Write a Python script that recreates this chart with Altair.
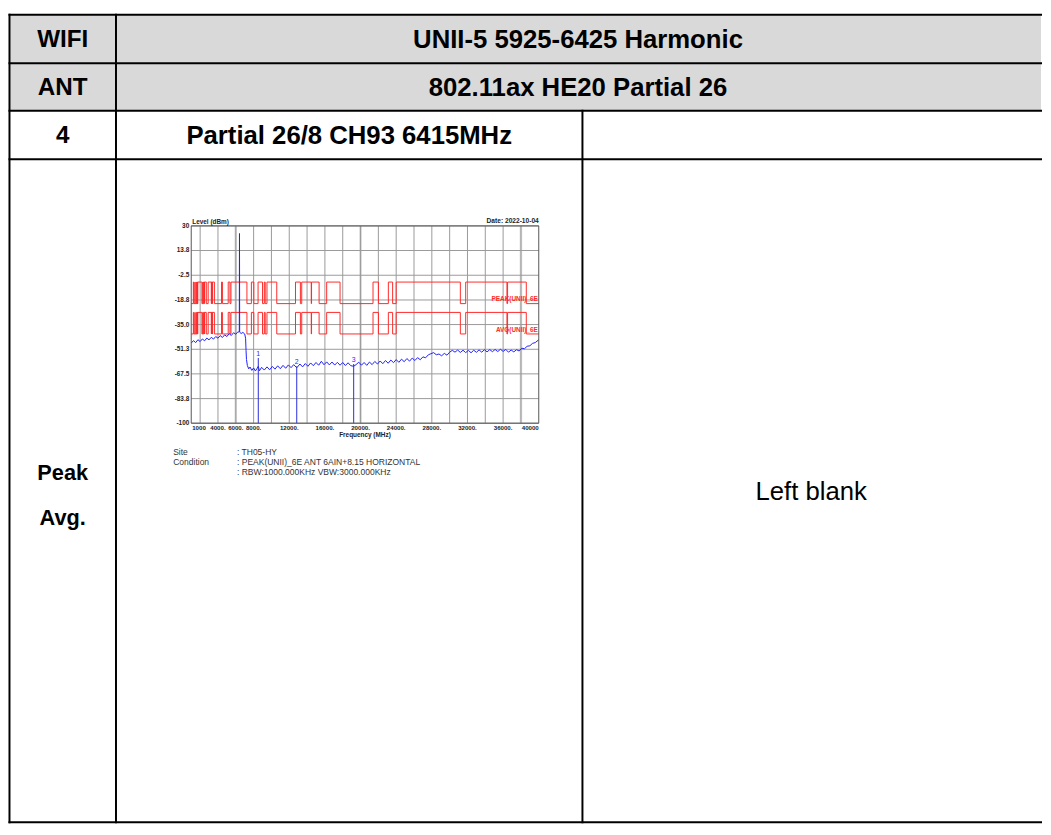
import altair as alt
import pandas as pd

# ---------------- table content ----------------
ROW_LABELS = ["WIFI", "ANT", "4"]
ROW_VALUES = ["UNII-5 5925-6425 Harmonic", "802.11ax HE20 Partial 26", "Partial 26/8 CH93 6415MHz"]
MODE_LABELS = ["Peak", "Avg."]
BLANK_TEXT = "Left blank"
FOOTER_KEYS = ["Site", "Condition", ""]
FOOTER_VALUES = [": TH05-HY", ": PEAK(UNII)_6E ANT 6AIN+8.15 HORIZONTAL", ": RBW:1000.000KHz VBW:3000.000KHz"]

# ---------------- spectrum plot ----------------
Y_TICKS = [30, 13.8, -2.5, -18.8, -35.0, -51.3, -67.5, -83.8, -100]
Y_TICK_LABELS = ["30", "13.8", "-2.5", "-18.8", "-35.0", "-51.3", "-67.5", "-83.8", "-100"]
X_TICKS = [1000, 4000, 6000, 8000, 12000, 16000, 20000, 24000, 28000, 32000, 36000, 40000]
X_TICK_LABELS = ["1000", "4000.", "6000.", "8000.", "12000.", "16000.", "20000.",
                 "24000.", "28000.", "32000.", "36000.", "40000"]
GRID_FREQ = [2000, 4000, 6000, 8000, 10000, 12000, 14000, 16000, 18000, 20000,
             22000, 24000, 26000, 28000, 30000, 32000, 34000, 36000, 38000]
LIGHT_GRID_FREQ = [6000, 20000, 38000]

RESTRICTED_START = [960, 1300, 1435, 1645.5, 1660, 1718.8, 2200, 2310, 2483.5, 2690,
                    3260, 3332, 3345.8, 3600, 4500, 5350, 7250, 8025, 9000, 9300,
                    10600, 13250, 14470, 15350, 17700, 22010, 23600, 31200, 36430, 38600]
RESTRICTED_END = [1240, 1427, 1626.5, 1646.5, 1710, 1722.2, 2300, 2390, 2500, 2900,
                  3267, 3339, 3358, 4400, 5150, 5460, 7750, 8500, 9200, 9500,
                  12700, 13400, 14500, 16200, 21400, 23120, 24000, 31800, 36500, 40000]
PEAK_LIMIT = [-7.0, -21.2]   # non-restricted, restricted
AVG_LIMIT = [-27.0, -41.2]

TRACE_FREQ = [1000, 1250, 1500, 1750, 2000, 2250, 2500, 2750, 3000, 3250,
              3500, 3750, 4000, 4250, 4500, 4750, 5000, 5250, 5500, 5750,
              6000, 6200, 6395, 6415, 6435, 6600, 6800, 7000, 7100, 7150,
              7200, 7300, 7450, 7600, 7800, 8000, 8200, 8400, 8525, 8650,
              8900, 9200, 9500, 9800, 10100, 10400, 10700, 11000, 11300, 11600,
              11900, 12200, 12500, 12840, 13200, 13500, 13800, 14100, 14400, 14700,
              15000, 15300, 15600, 15900, 16200, 16500, 16800, 17100, 17400, 17700,
              18000, 18300, 18600, 18900, 19230, 19500, 19800, 20100, 20400, 20700,
              21000, 21300, 21600, 21900, 22200, 22500, 22800, 23100, 23400, 23700,
              24000, 24300, 24600, 24900, 25200, 25500, 25800, 26100, 26400, 26700,
              27000, 27300, 27600, 27900, 28200, 28500, 28800, 29100, 29400, 29700,
              30000, 30300, 30600, 30900, 31200, 31500, 31800, 32100, 32400, 32700,
              33000, 33300, 33600, 33900, 34200, 34500, 34800, 35100, 35400, 35700,
              36000, 36300, 36600, 36900, 37200, 37500, 37800, 38100, 38400, 38700,
              39000, 39300, 39600, 40000]
TRACE_LEVEL = [-47.2, -45.6, -46.9, -45.0, -46.2, -44.5, -45.7, -43.9, -45.1, -43.4,
               -44.6, -42.9, -44.0, -42.3, -43.5, -41.8, -42.9, -41.0, -42.2, -40.4,
               -41.4, -40.0, -39.8, 25.0, -40.0, -40.9, -40.2, -41.2, -44.0, -52.0,
               -58.0, -62.0, -64.2, -63.0, -65.2, -63.6, -65.6, -63.8, -62.5, -65.5,
               -63.2, -65.0, -62.9, -64.8, -62.6, -64.4, -62.2, -64.1, -61.9, -63.8,
               -61.6, -63.4, -61.4, -63.5, -61.0, -62.9, -60.7, -62.5, -60.3, -62.1,
               -60.0, -61.8, -59.2, -61.5, -59.6, -61.6, -59.7, -61.7, -59.9, -61.8,
               -60.0, -62.0, -60.2, -62.1, -62.5, -61.4, -59.8, -61.8, -60.0, -61.9,
               -59.7, -61.4, -59.3, -61.0, -59.0, -60.8, -58.7, -60.5, -58.4, -60.1,
               -58.1, -59.9, -57.8, -59.5, -57.4, -59.1, -57.1, -58.7, -56.8, -58.2,
               -56.3, -56.9, -55.0, -54.2, -53.5, -54.9, -54.4, -55.6, -54.0, -55.2,
               -53.2, -52.0, -53.2, -51.8, -53.4, -51.9, -53.5, -52.0, -53.6, -51.9,
               -53.3, -51.7, -53.2, -51.6, -53.0, -51.5, -52.9, -51.4, -52.8, -51.3,
               -52.7, -51.4, -53.2, -51.8, -53.0, -51.6, -52.4, -50.6, -50.9, -49.3,
               -49.0, -47.4, -46.9, -45.0]

MARKER_FREQ = [8525, 12840, 19230]
MARKER_LEVEL = [-57.0, -62.5, -61.0]
MARKER_LABEL = ["1", "2", "3"]

# ---------------- layout (reference pixel frame) ----------------
W, H = 1042, 819
RX0, RX1, RY0, RY1 = 6, 1050, 6, 833
CX0, CX1, CY0, CY1 = 0.5, 1042, 1, 818
def px(x):
    return CX0 + (x - RX0) * (CX1 - CX0) / (RX1 - RX0)
def py(y):
    return CY0 + (y - RY0) * (CY1 - CY0) / (RY1 - RY0)

TX = alt.Scale(domain=[RX0, RX1], range=[CX0, CX1], nice=False, zero=False)
TY = alt.Scale(domain=[RY0, RY1], range=[CY0, CY1], nice=False, zero=False)

ROW_EDGES = [6, 55.7, 104.3, 154, 833]
COL_LEFT, COL_1, COL_2, COL_RIGHT = 6, 114, 587, 1052
TEXT_RIGHT = 1051

rules = pd.DataFrame(
    [dict(x=COL_LEFT, x2=COL_RIGHT, y=r, y2=r) for r in ROW_EDGES]
    + [dict(x=COL_LEFT, x2=COL_LEFT, y=6, y2=833),
       dict(x=COL_1, x2=COL_1, y=6, y2=833),
       dict(x=COL_2, x2=COL_2, y=104.3, y2=833)]
)
fill = pd.DataFrame([dict(x=COL_LEFT, x2=COL_RIGHT, y=6, y2=104.3)])

row_mid = [(ROW_EDGES[i] + ROW_EDGES[i + 1]) / 2 + 1 for i in range(3)]
left_text = pd.DataFrame(
    [dict(x=(COL_LEFT + COL_1) / 2, y=row_mid[i], t=ROW_LABELS[i]) for i in range(3)])
value_text = pd.DataFrame(
    [dict(x=(COL_1 + TEXT_RIGHT) / 2, y=row_mid[0], t=ROW_VALUES[0]),
     dict(x=(COL_1 + TEXT_RIGHT) / 2, y=row_mid[1], t=ROW_VALUES[1]),
     dict(x=(COL_1 + COL_2) / 2, y=row_mid[2], t=ROW_VALUES[2])])
mode_text = pd.DataFrame(
    [dict(x=(COL_LEFT + COL_1) / 2, y=475, t=MODE_LABELS[0]),
     dict(x=(COL_LEFT + COL_1) / 2, y=521, t=MODE_LABELS[1])])
plain_text = pd.DataFrame([dict(x=(COL_2 + TEXT_RIGHT) / 2, y=495, t=BLANK_TEXT)])
footer = pd.DataFrame(
    [dict(x=172, y=454 + 10 * i, t=FOOTER_KEYS[i]) for i in range(3)]
    + [dict(x=236.7, y=454 + 10 * i, t=FOOTER_VALUES[i]) for i in range(3)]
)

TXE = alt.X("x:Q", scale=TX, axis=None)
TYE = alt.Y("y:Q", scale=TY, axis=None)
TF = dict(font="Liberation Sans", color="black", align="center", baseline="middle")

table = alt.layer(
    alt.Chart(fill).mark_rect(color="#d9d9d9").encode(x=TXE, x2="x2:Q", y=TYE, y2="y2:Q"),
    alt.Chart(rules).mark_rule(color="black", strokeWidth=2, strokeCap="square").encode(
        x=TXE, x2="x2:Q", y=TYE, y2="y2:Q"),
    alt.Chart(left_text).mark_text(fontSize=24.5, fontWeight="bold", **TF).encode(
        x=TXE, y=TYE, text="t:N"),
    alt.Chart(value_text).mark_text(fontSize=26, fontWeight="bold", **TF).encode(
        x=TXE, y=TYE, text="t:N"),
    alt.Chart(mode_text).mark_text(fontSize=22, fontWeight="bold", **TF).encode(
        x=TXE, y=TYE, text="t:N"),
    alt.Chart(plain_text).mark_text(fontSize=26, **TF).encode(
        x=TXE, y=TYE, text="t:N"),
    alt.Chart(footer).mark_text(font="Liberation Sans", fontSize=8.6, color="#333333",
                                align="left", baseline="middle").encode(
        x=TXE, y=TYE, text="t:N"),
)

# ---------------- spectrum ----------------
SX = alt.Scale(domain=[1000, 40000], range=[px(190.3), px(542.7)], nice=False, zero=False)
SY = alt.Scale(domain=[-100, 30], range=[py(424.3), py(222.3)], nice=False, zero=False)
XE = alt.X("f:Q", scale=SX, axis=None)
YE = alt.Y("lv:Q", scale=SY, axis=None)

def limit_points(levels):
    hi, lo = levels
    f, lv = [], []
    cur = 1000
    for s, e in zip(RESTRICTED_START, RESTRICTED_END):
        s = max(s, 1000)
        if s > cur:
            f.append(cur); lv.append(hi)
        f.append(s); lv.append(lo)
        cur = e
    if cur < 40000:
        f.append(cur); lv.append(hi)
    f.append(40000); lv.append(lv[-1])
    return f, lv

pf, pl = limit_points(PEAK_LIMIT)
af, al = limit_points(AVG_LIMIT)
limits = pd.DataFrame({"f": pf + af, "lv": pl + al,
                       "s": ["peak"] * len(pf) + ["avg"] * len(af),
                       "i": list(range(len(pf))) + list(range(len(af)))})
trace = pd.DataFrame({"f": TRACE_FREQ, "lv": TRACE_LEVEL})
grid_v = pd.DataFrame({"f": GRID_FREQ, "lv": -100, "lv2": 30})
grid_light = pd.DataFrame({"f": LIGHT_GRID_FREQ, "lv": -100, "lv2": 30})
grid_h = pd.DataFrame({"lv": Y_TICKS, "t": Y_TICK_LABELS, "f": 1000, "f2": 40000})
xt = pd.DataFrame({"f": X_TICKS, "t": X_TICK_LABELS, "lv": -100})
markers = pd.DataFrame({"f": MARKER_FREQ, "lv": MARKER_LEVEL, "lv2": -100, "t": MARKER_LABEL})
frame = pd.DataFrame({"f": [1000], "f2": [40000], "lv": [-100], "lv2": [30]})
labels = pd.DataFrame({
    "f": [20500, 1000, 40000, 40000, 40000],
    "lv": [-100, 30, 30, -18.5, -38.7],
    "t": ["Frequency (MHz)", "Level (dBm)", "Date: 2022-10-04", "PEAK(UNII)_6E", "AVG(UNII)_6E"],
})

LBL = dict(font="Liberation Sans", fontWeight="bold", color="#222222")
RED = "#ff2a2a"

spectrum = alt.layer(
    alt.Chart(grid_light).mark_rule(color="#d6d6d6", strokeWidth=2.5).encode(x=XE, y=YE, y2="lv2:Q"),
    alt.Chart(grid_v).mark_rule(color="#9a9a9a", strokeWidth=1).encode(x=XE, y=YE, y2="lv2:Q"),
    alt.Chart(grid_h).mark_rule(color="#9a9a9a", strokeWidth=1).encode(y=YE, x=XE, x2="f2:Q"),
    alt.Chart(limits).mark_line(color=RED, strokeWidth=1, interpolate="step-after").encode(
        x=XE, y=YE, detail="s:N", order="i:Q"),
    alt.Chart(trace).mark_line(color="#2020ff", strokeWidth=1).encode(x=XE, y=YE),
    alt.Chart(markers).mark_rule(color="#2a2ad8", strokeWidth=1).encode(x=XE, y=YE, y2="lv2:Q"),
    alt.Chart(markers).mark_text(color="#2a2aff", fontSize=7, font="Liberation Sans",
                                 baseline="bottom", dy=-1).encode(x=XE, y=YE, text="t:N"),
    alt.Chart(frame).mark_rect(fill="transparent", stroke="#555555", strokeWidth=1).encode(
        x=XE, x2="f2:Q", y=YE, y2="lv2:Q"),
    alt.Chart(grid_h).mark_text(fontSize=6.5, align="right", baseline="middle", dx=-2, **LBL).encode(
        y=YE, x=XE, text="t:N"),
    alt.Chart(xt.iloc[[0]]).mark_text(fontSize=6.2, align="left", baseline="top", dx=1, dy=1.5, **LBL).encode(
        x=XE, y=YE, text="t:N"),
    alt.Chart(xt.iloc[1:-1]).mark_text(fontSize=6.2, align="center", baseline="top", dy=1.5, **LBL).encode(
        x=XE, y=YE, text="t:N"),
    alt.Chart(xt.iloc[[-1]]).mark_text(fontSize=6.2, align="right", baseline="top", dy=1.5, **LBL).encode(
        x=XE, y=YE, text="t:N"),
    alt.Chart(labels.iloc[[0]]).mark_text(fontSize=6.5, align="center", baseline="top", dy=9, **LBL).encode(
        x=XE, y=YE, text="t:N"),
    alt.Chart(labels.iloc[[1]]).mark_text(fontSize=6.5, align="left", baseline="bottom", dy=-1, dx=1, **LBL).encode(
        x=XE, y=YE, text="t:N"),
    alt.Chart(labels.iloc[[2]]).mark_text(fontSize=6.7, align="right", baseline="bottom", dy=-2, **LBL).encode(
        x=XE, y=YE, text="t:N"),
    alt.Chart(labels.iloc[3:]).mark_text(fontSize=6.5, align="right", baseline="middle", dx=-1,
                                         font="Liberation Sans", fontWeight="bold", color=RED).encode(
        x=XE, y=YE, text="t:N"),
)

chart = alt.layer(table, spectrum).resolve_scale(x="independent", y="independent").properties(
    width=W, height=H, padding=0, background="white"
).configure_view(stroke=None)

chart.save("out.html", embed_options={"renderer": "svg", "actions": False})
